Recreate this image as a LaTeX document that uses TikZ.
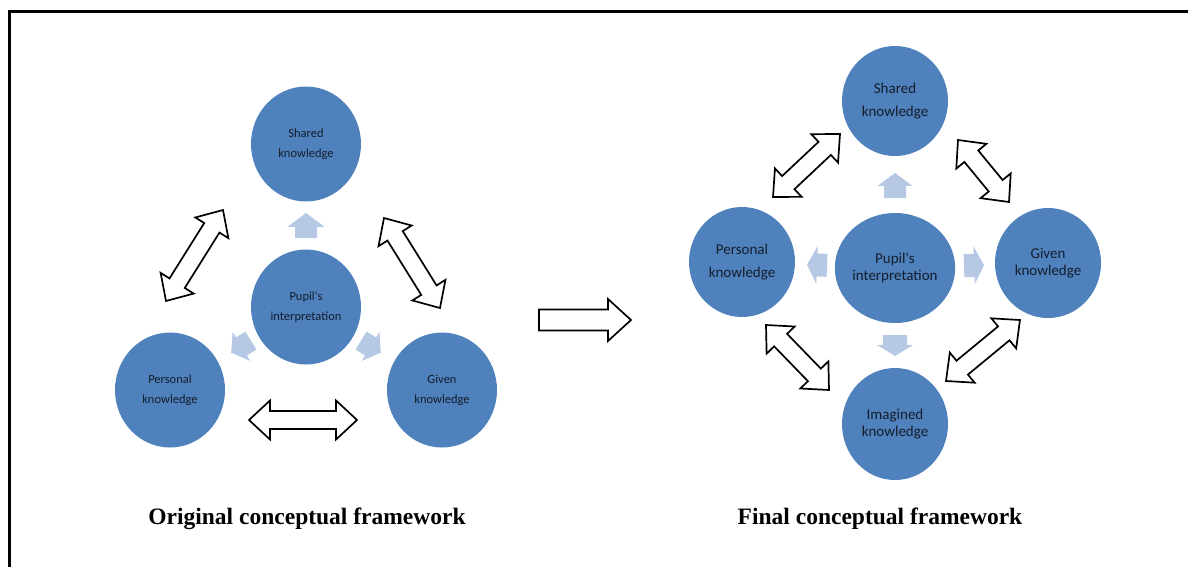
\documentclass[tikz,border=0pt]{standalone}
\usepackage{fontspec}
\setmainfont{Liberation Serif}
\newfontfamily\calib{Carlito}
\usetikzlibrary{shapes.geometric,calc}

\definecolor{kblue}{HTML}{4F81BD}
\definecolor{kpale}{RGB}{183,200,228}
\definecolor{ktext}{RGB}{20,30,45}

\tikzset{
  know/.style={ellipse, fill=kblue, inner sep=0pt, align=center, text=ktext,
    minimum width=110, minimum height=115, font=\calib\fontsize{12.5}{20}\selectfont},
  knowbig/.style={know, minimum width=106, minimum height=110,
    font=\calib\fontsize{15}{23}\selectfont},
  hollow/.style={draw=black, line width=1.7pt, fill=white, line join=miter},
  pale/.style={draw=none, fill=kpale},
  caption/.style={font=\bfseries\fontsize{23.5}{28}\selectfont},
  frame/.style={line width=2.4pt, draw=black}
}

% angle and length from #1 to #2
\newcommand{\arrowangle}[2]{%
  \path let \p1=($(#2)-(#1)$) in
    \pgfextra{\pgfmathsetmacro\arang{atan2(\y1,\x1)}\pgfmathsetmacro\arlen{veclen(\x1,\y1)}%
      \xdef\arang{\arang}\xdef\arlen{\arlen}};}

% hollow two-headed block arrow
\newcommand{\twoway}[2]{%
  \arrowangle{#1}{#2}%
  \draw[hollow, shift={(#1)}, rotate=\arang]
    (0,0) -- (21,19.5) -- (21,9) -- (\arlen-21,9) -- (\arlen-21,19.5) -- (\arlen,0)
    -- (\arlen-21,-19.5) -- (\arlen-21,-9) -- (21,-9) -- (21,-19.5) -- cycle;}

% one-headed block arrow: from, to, head length, head half width, shaft half width
\newcommand{\oneway}[6][hollow]{%
  \arrowangle{#2}{#3}%
  \draw[#1, shift={(#2)}, rotate=\arang]
    (0,#6) -- (\arlen-#4,#6) -- (\arlen-#4,#5) -- (\arlen,0)
    -- (\arlen-#4,-#5) -- (\arlen-#4,-#6) -- (0,-#6) -- cycle;}

% pale arrow on the line from centre node #1 to node #2
\newcommand{\radial}[7]{%
  \coordinate (ra) at ($(#1)!#3!(#2)$);
  \coordinate (rb) at ($(#1)!#4!(#2)$);
  \oneway[pale]{ra}{rb}{#5}{#6}{#7}}

\begin{document}
\begin{tikzpicture}[x=1pt, y=-1pt]
\useasboundingbox (0,0) rectangle (1188,567);
\draw[frame] (9.5,567) -- (9.5,11.5) -- (1188,11.5);

% original framework
\node[know] (shL) at (306,144) {Shared\\knowledge};
\node[know] (pupL) at (306,307) {Pupil's\\interpretation};
\node[know] (perL) at (170,390) {Personal\\knowledge};
\node[know] (givL) at (442,390) {Given\\knowledge};

\radial{pupL}{shL}{0.423}{0.577}{14}{18.5}{11}
\radial{pupL}{perL}{0.405}{0.55}{12}{17}{10.5}
\radial{pupL}{givL}{0.405}{0.55}{12}{17}{10.5}

\coordinate (l1a) at (166,301); \coordinate (l1b) at (223,210);
\coordinate (l2a) at (384,218); \coordinate (l2b) at (440,308);
\coordinate (l3a) at (249,420); \coordinate (l3b) at (357,420);
\twoway{l1a}{l1b}
\twoway{l2a}{l2b}
\twoway{l3a}{l3b}

\node[caption] (capL) at (307,519) {Original conceptual framework};

% from one to the other
\coordinate (mida) at (539,320); \coordinate (midb) at (631,320);
\oneway{mida}{midb}{23}{21}{10.5}

% final framework
\node[knowbig] (shR) at (895,101) {Shared\\knowledge};
\node[knowbig, minimum width=119, font=\calib\fontsize{15}{17}\selectfont] (pupR) at (895,268) {Pupil's\\interpretation};
\node[knowbig] (perR) at (742,262) {Personal\\knowledge};
\node[knowbig, font=\calib\fontsize{15}{17}\selectfont] (givR) at (1048,263) {Given\\knowledge};
\node[knowbig, minimum height=112, font=\calib\fontsize{15}{17}\selectfont] (imR) at (895,424) {Imagined\\knowledge};

\radial{pupR}{shR}{0.419}{0.569}{13}{17.5}{11}
\radial{pupR}{perR}{0.444}{0.575}{10}{19}{11.5}
\radial{pupR}{givR}{0.451}{0.582}{10}{19}{11.5}
\radial{pupR}{imR}{0.43}{0.564}{11}{18}{12}

\coordinate (r1a) at (773,197); \coordinate (r1b) at (840,134);
\coordinate (r2a) at (958,140); \coordinate (r2b) at (1009,202);
\coordinate (r3a) at (766,325); \coordinate (r3b) at (829,390);
\coordinate (r4a) at (946,381); \coordinate (r4b) at (1020,320);
\twoway{r1a}{r1b}
\twoway{r2a}{r2b}
\twoway{r3a}{r3b}
\twoway{r4a}{r4b}

\node[caption] (capR) at (880,519) {Final conceptual framework};
\end{tikzpicture}
\end{document}
